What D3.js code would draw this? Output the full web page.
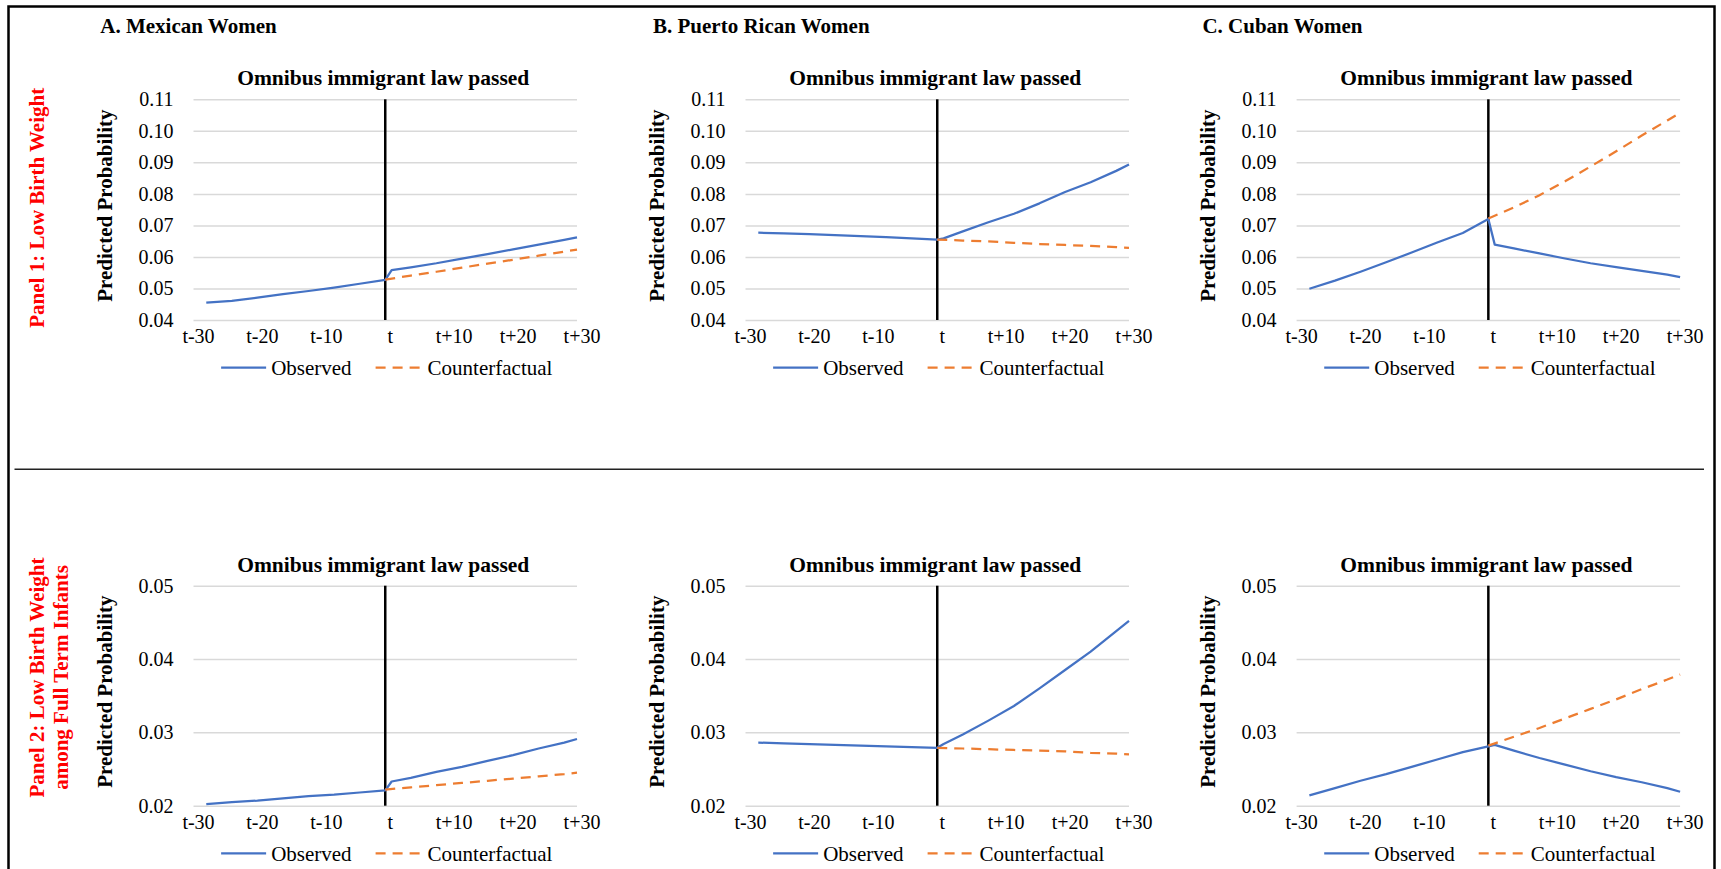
<!DOCTYPE html>
<html>
<head>
<meta charset="utf-8">
<script src="https://cdn.jsdelivr.net/npm/d3@7"></script>
<style>
  body { margin: 0; background: #fff; }
  svg text { font-family: "Liberation Serif", "Times New Roman", serif; }
</style>
</head>
<body>
<svg id="figure" width="1721" height="869"></svg>
<script>
// ---- data ----
var groups = ["A. Mexican Women", "B. Puerto Rican Women", "C. Cuban Women"];
var outcomes = [["Panel 1: Low Birth Weight"], ["Panel 2: Low Birth Weight", "among Full Term Infants"]];
var chartTitle = "Omnibus immigrant law passed";
var yTitle = "Predicted Probability";
var legendLabels = ["Observed", "Counterfactual"];

var xTicks = [-30, -20, -10, 0, 10, 20, 30];
var xTickLabels = ["t-30", "t-20", "t-10", "t", "t+10", "t+20", "t+30"];
var yTicksTop = [0.04, 0.05, 0.06, 0.07, 0.08, 0.09, 0.10, 0.11];
var yTicksBottom = [0.02, 0.03, 0.04, 0.05];

// periods relative to the law (t = 0)
var obsX = [-28, -24, -20, -16, -12, -8, -4, 0, 1, 4, 8, 12, 16, 20, 24, 28, 30];
var cfX = [0, 4, 8, 12, 16, 20, 24, 28, 30];

// Panel 1: low birth weight
var mexLbwObs = [0.0455, 0.0461, 0.0471, 0.0482, 0.0492, 0.0503, 0.0515, 0.0527, 0.0558, 0.0567, 0.0580, 0.0595, 0.0609, 0.0624, 0.0639, 0.0654, 0.0662];
var mexLbwCf = [0.0528, 0.0541, 0.0553, 0.0566, 0.0579, 0.0591, 0.0604, 0.0617, 0.0623];
var prLbwObs = [0.0677, 0.0675, 0.0672, 0.0669, 0.0666, 0.0663, 0.0659, 0.0655, 0.0659, 0.0681, 0.0710, 0.0737, 0.0770, 0.0806, 0.0837, 0.0873, 0.0893];
var prLbwCf = [0.0655, 0.0652, 0.0649, 0.0645, 0.0641, 0.0638, 0.0635, 0.0631, 0.0629];
var cubLbwObs = [0.0499, 0.0525, 0.0553, 0.0583, 0.0614, 0.0646, 0.0676, 0.0720, 0.0639, 0.0627, 0.0611, 0.0595, 0.0580, 0.0568, 0.0556, 0.0544, 0.0536];
var cubLbwCf = [0.0722, 0.0757, 0.0796, 0.0840, 0.0887, 0.0935, 0.0985, 0.1033, 0.1057];

// Panel 2: low birth weight among full term infants
var mexFtObs = [0.0202, 0.0205, 0.0207, 0.0210, 0.0213, 0.0215, 0.0218, 0.0221, 0.0233, 0.0238, 0.0246, 0.0253, 0.0261, 0.0269, 0.0278, 0.0286, 0.0291];
var mexFtCf = [0.0222, 0.0225, 0.0228, 0.0231, 0.0234, 0.0237, 0.0240, 0.0243, 0.0245];
var prFtObs = [0.0286, 0.0285, 0.0284, 0.0283, 0.0282, 0.0281, 0.0280, 0.0279, 0.0284, 0.0297, 0.0316, 0.0336, 0.0360, 0.0385, 0.0410, 0.0438, 0.0452];
var prFtCf = [0.0279, 0.0278, 0.0277, 0.0276, 0.0275, 0.0274, 0.0272, 0.0271, 0.0270];
var cubFtObs = [0.0214, 0.0224, 0.0234, 0.0243, 0.0253, 0.0263, 0.0273, 0.0281, 0.0283, 0.0275, 0.0265, 0.0256, 0.0247, 0.0239, 0.0232, 0.0224, 0.0219];
var cubFtCf = [0.0282, 0.0294, 0.0306, 0.0319, 0.0332, 0.0345, 0.0359, 0.0372, 0.0379];

/////

var Config = {
  ColX: [193.5, 745.5, 1296.6],
  GroupTitleX: [100.3, 653, 1202.4],
  GroupTitleY: 33.3,
  PlotWidth: 383.5,
  RowY: [99.3, 585.7],
  PlotHeight: [220.7, 220],
  TickFont: 20,
  TitleFont: 21.5,
  Blue: "#4472C4",
  Orange: "#ED7D31",
  Grid: "#d9d9d9",
  Font: "'Liberation Serif', 'Times New Roman', serif"
};

var svg = d3.select("#figure");

// outer frame and row divider
svg.append("rect")
  .attr("x", 8.5).attr("y", 6.5)
  .attr("width", 1706).attr("height", 890)
  .attr("fill", "none").attr("stroke", "#000").attr("stroke-width", 2.5);

svg.append("line")
  .attr("x1", 14.5).attr("x2", 1704)
  .attr("y1", 469.3).attr("y2", 469.3)
  .attr("stroke", "#222").attr("stroke-width", 1.5);

// group titles
groups.forEach(function (name, i) {
  svg.append("text")
    .attr("x", Config.GroupTitleX[i])
    .attr("y", Config.GroupTitleY)
    .attr("font-size", 21).attr("font-weight", "bold")
    .text(name);
});

// red row labels
function rowLabel(lines, cy) {
  lines.forEach(function (line, k) {
    svg.append("text")
      .attr("transform", "translate(" + (43.5 + k * 24.8) + "," + cy + ") rotate(-90)")
      .attr("text-anchor", "middle")
      .attr("font-size", 21).attr("font-weight", "bold")
      .attr("fill", "#ff0000")
      .text(line);
  });
}
rowLabel(outcomes[0], 207.8);
rowLabel(outcomes[1], 677.5);

function drawPanel(col, row, obs, cf, yTicks) {
  var W = Config.PlotWidth, H = Config.PlotHeight[row];
  var g = svg.append("g")
    .attr("transform", "translate(" + Config.ColX[col] + "," + Config.RowY[row] + ")");

  var x = d3.scaleLinear().domain([-30, 30]).range([0, W]);
  var y = d3.scaleLinear().domain(d3.extent(yTicks)).range([H, 0]);

  // gridlines + y labels
  g.append("g")
    .call(d3.axisLeft(y).tickValues(yTicks).tickFormat(d3.format(".2f")).tickSize(-W).tickPadding(20))
    .attr("font-family", Config.Font).attr("font-size", Config.TickFont)
    .call(function (a) { a.select(".domain").remove(); })
    .call(function (a) { a.selectAll("line").attr("stroke", Config.Grid).attr("stroke-width", 1.5); })
    .call(function (a) { a.selectAll("text").attr("fill", "#000"); });

  // x labels
  g.append("g")
    .attr("transform", "translate(0," + H + ")")
    .call(d3.axisBottom(x).tickValues(xTicks).tickFormat(function (d, i) { return xTickLabels[i]; }).tickSize(0).tickPadding(8.8))
    .attr("font-family", Config.Font).attr("font-size", Config.TickFont)
    .call(function (a) { a.select(".domain").remove(); })
    .call(function (a) { a.selectAll("text").attr("fill", "#000").attr("dx", 4.5); });

  // law passed marker
  g.append("line")
    .attr("x1", x(0)).attr("x2", x(0))
    .attr("y1", 0).attr("y2", H)
    .attr("stroke", "#000").attr("stroke-width", 2.5);

  var obsLine = d3.line().x(function (d, i) { return x(obsX[i]); }).y(function (d) { return y(d); });
  var cfLine = d3.line().x(function (d, i) { return x(cfX[i]); }).y(function (d) { return y(d); });

  g.append("path")
    .attr("d", obsLine(obs))
    .attr("fill", "none").attr("stroke", Config.Blue)
    .attr("stroke-width", 2.25).attr("stroke-linejoin", "round");

  g.append("path")
    .attr("d", cfLine(cf))
    .attr("fill", "none").attr("stroke", Config.Orange)
    .attr("stroke-width", 2.25).attr("stroke-dasharray", "10,7");

  // chart title
  g.append("text")
    .attr("x", W / 2 - 2).attr("y", -14)
    .attr("text-anchor", "middle")
    .attr("font-size", Config.TitleFont).attr("font-weight", "bold")
    .text(chartTitle);

  // y axis title
  g.append("text")
    .attr("transform", "translate(-82," + (H / 2 - 4) + ") rotate(-90)")
    .attr("text-anchor", "middle")
    .attr("font-size", 21).attr("font-weight", "bold")
    .text(yTitle);

  // legend
  var leg = g.append("g").attr("transform", "translate(" + (W / 2 + 1.5) + "," + (H + 55) + ")");
  var t1 = leg.append("text").attr("font-size", 21).text(legendLabels[0]);
  var t2 = leg.append("text").attr("font-size", 21).text(legendLabels[1]);
  var w1 = t1.node().getComputedTextLength(), w2 = t2.node().getComputedTextLength();
  var total = 45 + 5 + w1 + 24 + 45 + 7 + w2;
  var x0 = -total / 2;
  leg.append("line")
    .attr("x1", x0).attr("x2", x0 + 45).attr("y1", -7.3).attr("y2", -7.3)
    .attr("stroke", Config.Blue).attr("stroke-width", 2.25);
  t1.attr("x", x0 + 50);
  var x1 = x0 + 50 + w1 + 24;
  leg.append("line")
    .attr("x1", x1).attr("x2", x1 + 45).attr("y1", -7.3).attr("y2", -7.3)
    .attr("stroke", Config.Orange).attr("stroke-width", 2.25).attr("stroke-dasharray", "10,7");
  t2.attr("x", x1 + 52);
}

drawPanel(0, 0, mexLbwObs, mexLbwCf, yTicksTop);
drawPanel(1, 0, prLbwObs, prLbwCf, yTicksTop);
drawPanel(2, 0, cubLbwObs, cubLbwCf, yTicksTop);
drawPanel(0, 1, mexFtObs, mexFtCf, yTicksBottom);
drawPanel(1, 1, prFtObs, prFtCf, yTicksBottom);
drawPanel(2, 1, cubFtObs, cubFtCf, yTicksBottom);
</script>
</body>
</html>
